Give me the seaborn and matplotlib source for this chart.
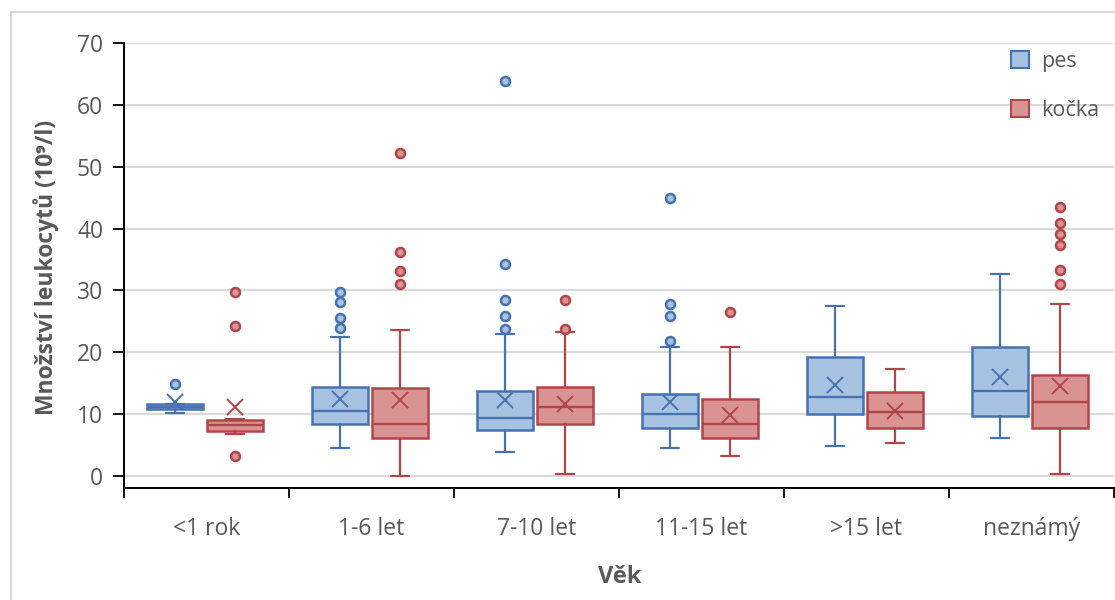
import numpy as np
import pandas as pd
import matplotlib
matplotlib.use("Agg")
import matplotlib.pyplot as plt
import seaborn as sns
from matplotlib.patches import Patch
from matplotlib.lines import Line2D

categories = ["<1 rok", "1-6 let", "7-10 let", "11-15 let", ">15 let", "neznámý"]
series = ["pes", "kočka"]

pes_q1 = [10.8, 8.35, 7.4, 7.7, 9.95, 9.7]
pes_med = [11.2, 10.55, 9.3, 10.0, 12.8, 13.8]
pes_q3 = [11.6, 14.4, 13.8, 13.2, 19.2, 20.8]
pes_lo = [10.2, 4.5, 3.9, 4.6, 4.9, 6.2]
pes_hi = [11.6, 22.4, 23.0, 20.9, 27.5, 32.6]
pes_mean = [12.0, 12.4, 12.3, 11.9, 14.65, 16.0]
pes_out = [[14.8], [29.7, 28.2, 25.6, 24.0], [63.9, 34.2, 28.5, 25.9, 23.8],
           [45.0, 27.8, 25.9, 21.8], [], []]

kocka_q1 = [7.3, 6.1, 8.35, 6.1, 7.7, 7.7]
kocka_med = [8.2, 8.4, 11.2, 8.4, 10.3, 11.9]
kocka_q3 = [9.05, 14.2, 14.4, 12.5, 13.5, 16.3]
kocka_lo = [6.8, 0.05, 0.4, 3.2, 5.4, 0.4]
kocka_hi = [9.25, 23.6, 23.3, 20.9, 17.3, 27.8]
kocka_mean = [11.2, 12.3, 11.6, 9.85, 10.55, 14.6]
kocka_out = [[29.8, 24.3, 3.3], [52.2, 36.2, 33.1, 31.0], [28.4, 23.8], [26.5], [],
             [43.5, 40.9, 39.1, 37.4, 33.3, 31.0]]

y_ticks = [0, 10, 20, 30, 40, 50, 60, 70]

sns.set_theme(style="white")
plt.rcParams["font.family"] = ["Open Sans", "DejaVu Sans"]

TXT = "#595959"
styles = {
    "pes": dict(fill="#a8c2e1", edge="#4672b0", off=-0.19),
    "kočka": dict(fill="#da9393", edge="#b24548", off=0.175),
}

fig = plt.figure(figsize=(11.15, 6.0), dpi=100)
ax = fig.add_axes([124 / 1115, 1 - 488 / 600, 990 / 1115, 445 / 600])

data = {
    "pes": (pes_q1, pes_med, pes_q3, pes_lo, pes_hi, pes_mean, pes_out),
    "kočka": (kocka_q1, kocka_med, kocka_q3, kocka_lo, kocka_hi, kocka_mean, kocka_out),
}

for s in series:
    q1, med, q3, lo, hi, mn, out = data[s]
    st = styles[s]
    stats = []
    for i in range(len(categories)):
        stats.append(dict(q1=q1[i], med=med[i], q3=q3[i], whislo=lo[i], whishi=hi[i],
                          mean=mn[i], fliers=np.array(out[i]), label=categories[i]))
    pos = [i + st["off"] for i in range(len(categories))]
    ax.bxp(stats, positions=pos, widths=0.34, patch_artist=True, showmeans=True,
           capwidths=0.11, manage_ticks=False,
           boxprops=dict(facecolor=st["fill"], edgecolor=st["edge"], linewidth=1.8),
           medianprops=dict(color=st["edge"], linewidth=1.7),
           whiskerprops=dict(color=st["edge"], linewidth=1.6),
           capprops=dict(color=st["edge"], linewidth=1.6),
           flierprops=dict(marker="o", markersize=6.5, markerfacecolor=st["fill"],
                           markeredgecolor=st["edge"], markeredgewidth=1.8),
           meanprops=dict(marker="x", markersize=12, markeredgecolor=st["edge"],
                          markeredgewidth=1.4, linestyle="none"),
           zorder=3)

ax.set_xlim(-0.5, len(categories) - 0.5)
ax.set_ylim(-1.94, 70)

for y in y_ticks:
    ax.axhline(y, color="#d9d9d9", lw=1.5, zorder=1)

ax.set_yticks(y_ticks)
ax.set_yticklabels([str(v) for v in y_ticks])
ax.tick_params(axis="y", direction="out", length=8, width=1.3, color="black",
               labelsize=16.5, labelcolor=TXT, pad=7, left=True)

ax.set_xticks(range(len(categories)))
ax.set_xticklabels(categories)
ax.set_xticks(np.arange(-0.5, len(categories), 1.0), minor=True)
ax.tick_params(axis="x", which="major", length=0, labelsize=16.5, labelcolor=TXT, pad=21)
ax.tick_params(axis="x", which="minor", direction="out", length=7, width=1.3,
               color="black", bottom=True)

for side in ["top", "right"]:
    ax.spines[side].set_visible(False)
for side in ["left", "bottom"]:
    ax.spines[side].set_color("black")
    ax.spines[side].set_linewidth(1.4)
ax.spines["left"].set_bounds(-1.94, 70)

ax.set_ylabel("Množství leukocytů (10⁹/l)", fontsize=16.5, fontweight="bold", color=TXT)
ax.yaxis.set_label_coords(-0.066, 0.495)
ax.set_xlabel("Věk", fontsize=17, fontweight="bold", color=TXT)
ax.xaxis.set_label_coords(0.501, -0.172)

handles = [Patch(facecolor=styles[s]["fill"], edgecolor=styles[s]["edge"], linewidth=1.5, label=s)
           for s in series]
leg = fig.legend(handles=handles, loc="upper left", bbox_to_anchor=(1011 / 1115, 1 - 51 / 600),
                 frameon=False, fontsize=15.5, handlelength=0.85, handleheight=0.85,
                 labelspacing=1.3, handletextpad=0.55, borderpad=0, borderaxespad=0)
for t in leg.get_texts():
    t.set_color(TXT)

# outer chart frame
fig.add_artist(Line2D([11 / 1115, 1.0], [1 - 12 / 600, 1 - 12 / 600], color="#d9d9d9", lw=1.5))
fig.add_artist(Line2D([11 / 1115, 11 / 1115], [0.0, 1 - 12 / 600], color="#d9d9d9", lw=1.5))

fig.savefig("out.png", dpi=100)
